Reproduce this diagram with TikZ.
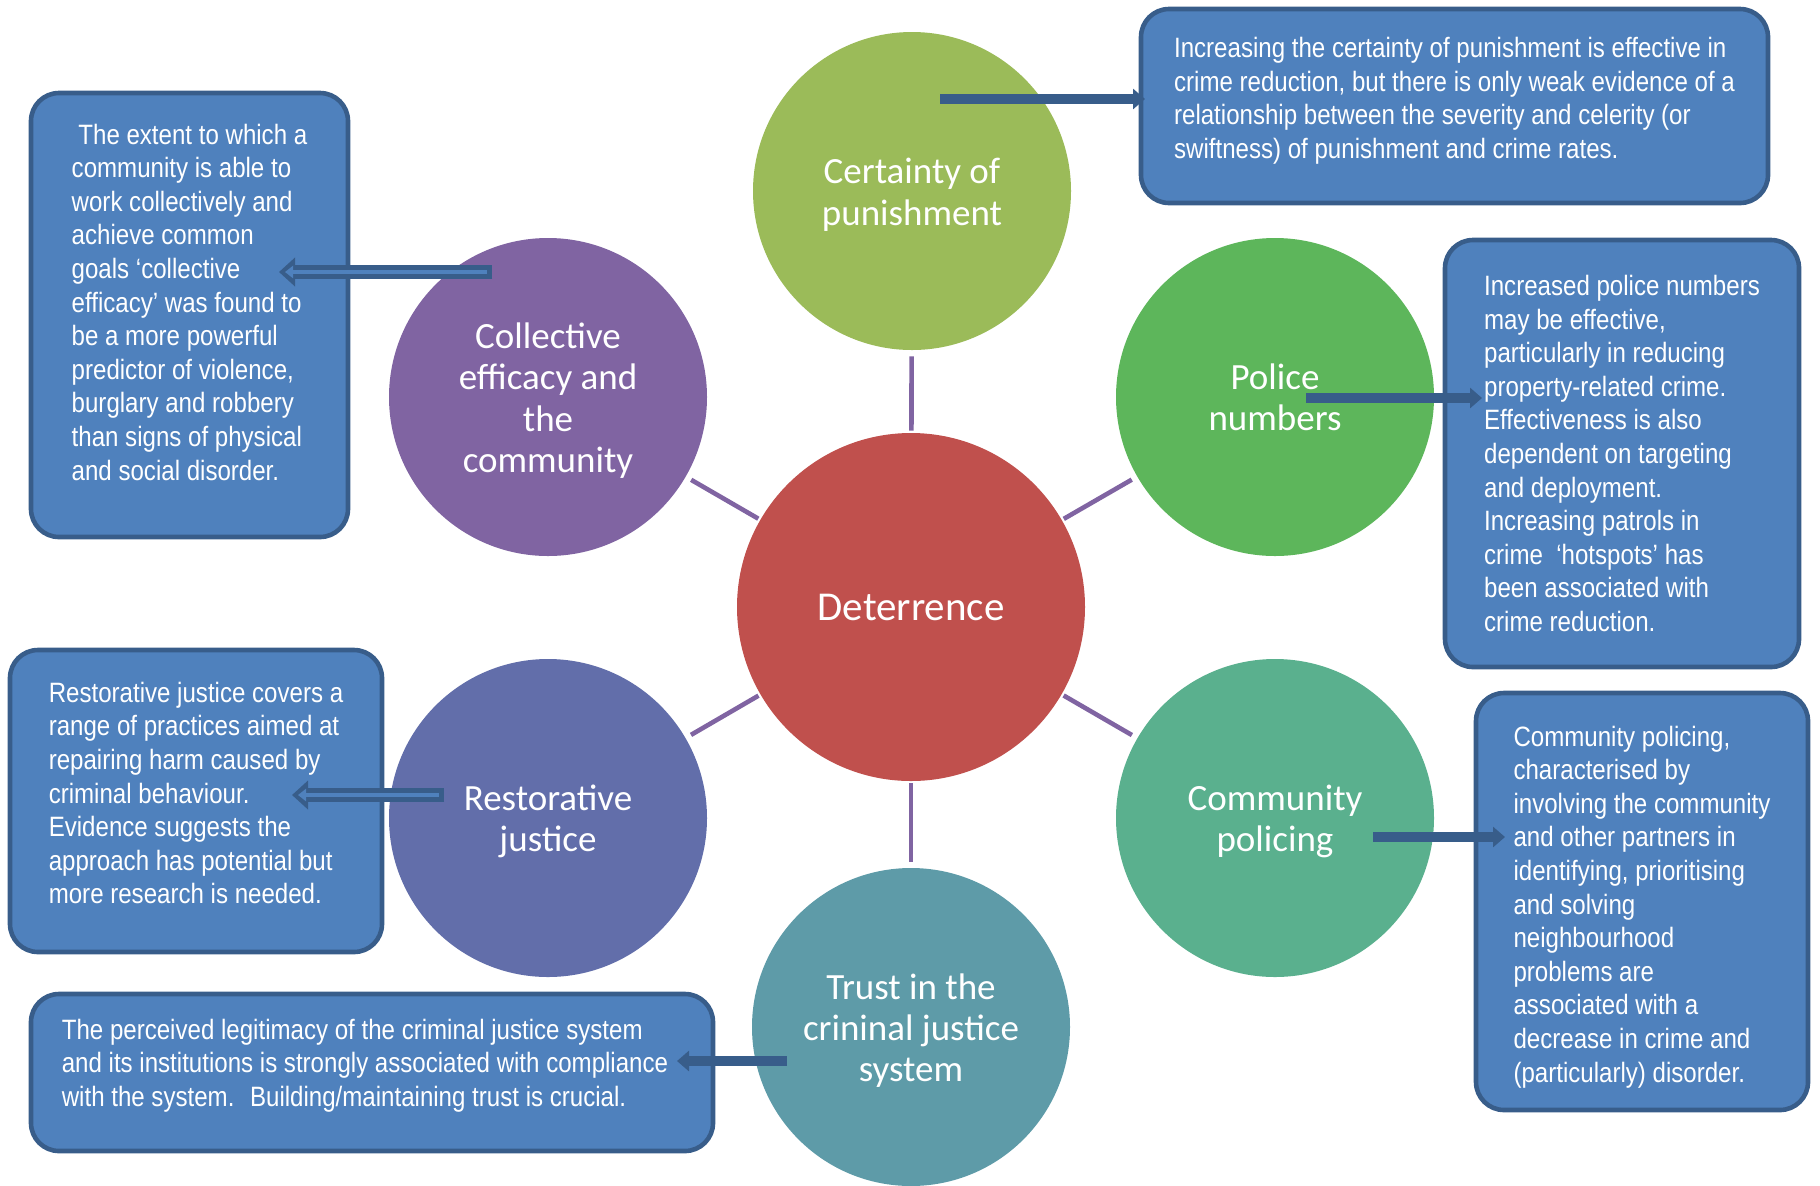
\documentclass[tikz,border=0pt]{standalone}
\usepackage{fontspec}
\usepackage{tikz}
\usepackage{xcolor}
\usetikzlibrary{arrows.meta}
\newfontfamily\circlefont{Carlito}
\newfontfamily\boxfont{Liberation Sans}[FakeStretch=0.86]
\definecolor{hubred}{HTML}{C0504D}
\definecolor{certgreen}{HTML}{9BBB59}
\definecolor{policegreen}{HTML}{5DB65B}
\definecolor{commteal}{HTML}{5AB08E}
\definecolor{trustteal}{HTML}{5E9BA8}
\definecolor{restblue}{HTML}{626EAA}
\definecolor{collpurple}{HTML}{8064A2}
\definecolor{boxblue}{HTML}{4F81BD}
\definecolor{boxedge}{HTML}{385D8A}
\definecolor{spokeline}{HTML}{8064A2}
% struts to nudge text inside a box up (depth) or down (height)
\newcommand{\liftby}[1]{\rule[-#1]{0pt}{0pt}}
\newcommand{\dropby}[1]{\rule{0pt}{#1}}
\tikzset{
    hub-circle/.style = {circle, fill=hubred, text=white, minimum size=174pt, inner sep=0pt, font=\circlefont\fontsize{20.5}{24}\selectfont},
    spoke-circle/.style = {circle, fill=#1, text=white, minimum size=159pt, inner sep=0pt, align=center, font=\circlefont\fontsize{18.5}{20.6}\selectfont},
    spoke-line/.style = {draw=spokeline, line width=2.3pt, shorten <=1pt, shorten >=3pt},
    info-box/.style = {draw=boxedge, fill=boxblue, line width=2.3pt, rectangle, rounded corners=14pt, text=white, align=left, inner sep=0pt, font=\boxfont\fontsize{14}{16.8}\selectfont},
    info-arrow/.style = {draw=boxedge, line width=5pt, -{Triangle[width=10pt,length=6pt]}},
    outline-arrow/.style = {draw=boxedge, line width=7pt, -{Triangle[width=14pt,length=8pt]}},
    outline-arrow-inner/.style = {draw=boxblue, line width=2pt, shorten <=2.5pt, shorten >=3pt, -{Triangle[width=6pt,length=4pt]}},
}
\begin{document}
\begin{tikzpicture}[x=0.5pt, y=-0.5pt]
\useasboundingbox (0,0) rectangle (1820,1185);

% circles
\node [hub-circle] (hub) at (911,607) {Deterrence};
\node [spoke-circle=certgreen] (cert) at (912,191) {\dropby{16.5pt}Certainty of\\punishment};
\node [spoke-circle=policegreen] (police) at (1275,397) {Police\\numbers};
\node [spoke-circle=commteal] (commpol) at (1275,818) {\dropby{16.5pt}Community\\policing};
\node [spoke-circle=trustteal] (trust) at (911,1027) {\dropby{16.5pt}Trust in the\\crininal justice\\system};
\node [spoke-circle=restblue] (restor) at (548,818) {\dropby{16.5pt}Restorative\\justice};
\node [spoke-circle=collpurple] (collect) at (548,397) {\dropby{16.5pt}Collective\\efficacy and\\the\\community};

\foreach \s in {cert, police, commpol, trust, restor, collect}
    \draw [spoke-line] (hub) -- (\s);

% text boxes
\node [info-box, minimum width=313.5pt, minimum height=97pt] (certbox) at (1454.5,106) {Increasing the certainty of punishment is effective in\\crime reduction, but there is only weak evidence of a\\relationship between the severity and celerity (or\\swiftness) of punishment and crime rates.\liftby{8pt}};
\node [info-box, minimum width=158.5pt, minimum height=222pt] (collbox) at (189.5,315) {\ The extent to which a\\community is able to\\work collectively and\\achieve common\\goals ‘collective\\efficacy’ was found to\\be a more powerful\\predictor of violence,\\burglary and robbery\\than signs of physical\\and social disorder.\liftby{13pt}};
\node [info-box, minimum width=177pt, minimum height=213.5pt] (policebox) at (1622,453.5) {Increased police numbers\\may be effective,\\particularly in reducing\\property-related crime.\\Effectiveness is also\\dependent on targeting\\and deployment.\\Increasing patrols in\\crime \ ‘hotspots’ has\\been associated with\\crime reduction.};
\node [info-box, minimum width=186pt, minimum height=151pt] (restbox) at (196,801) {Restorative justice covers a\\range of practices aimed at\\repairing harm caused by\\criminal behaviour.\\Evidence suggests the\\approach has potential but\\more research is needed.\liftby{8pt}};
\node [info-box, minimum width=166pt, minimum height=208.5pt] (commbox) at (1642,901.5) {\dropby{15.5pt}Community policing,\\characterised by\\involving the community\\and other partners in\\identifying, prioritising\\and solving\\neighbourhood\\problems are\\associated with a\\decrease in crime and\\(particularly) disorder.};
\node [info-box, minimum width=341pt, minimum height=78.5pt] (trustbox) at (372,1072.5) {The perceived legitimacy of the criminal justice system\\and its institutions is strongly associated with compliance\rule{7pt}{0pt}\\with the system. \ Building/maintaining trust is crucial.\liftby{10pt}};

% arrow ends
\coordinate (cert-a) at (940,99);
\coordinate (cert-b) at (1145,99);
\coordinate (police-a) at (1306,398);
\coordinate (police-b) at (1482,398);
\coordinate (comm-a) at (1373,837);
\coordinate (comm-b) at (1505,837);
\coordinate (trust-a) at (787,1061);
\coordinate (trust-b) at (677,1061);
\coordinate (coll-a) at (492,272);
\coordinate (coll-b) at (279,272);
\coordinate (rest-a) at (444,795);
\coordinate (rest-b) at (292,795);

\draw [info-arrow] (cert-a) -- (cert-b);
\draw [info-arrow] (police-a) -- (police-b);
\draw [info-arrow] (comm-a) -- (comm-b);
\draw [info-arrow] (trust-a) -- (trust-b);
\draw [outline-arrow] (coll-a) -- (coll-b);
\draw [outline-arrow-inner] (coll-a) -- (coll-b);
\draw [outline-arrow] (rest-a) -- (rest-b);
\draw [outline-arrow-inner] (rest-a) -- (rest-b);
\end{tikzpicture}
\end{document}
